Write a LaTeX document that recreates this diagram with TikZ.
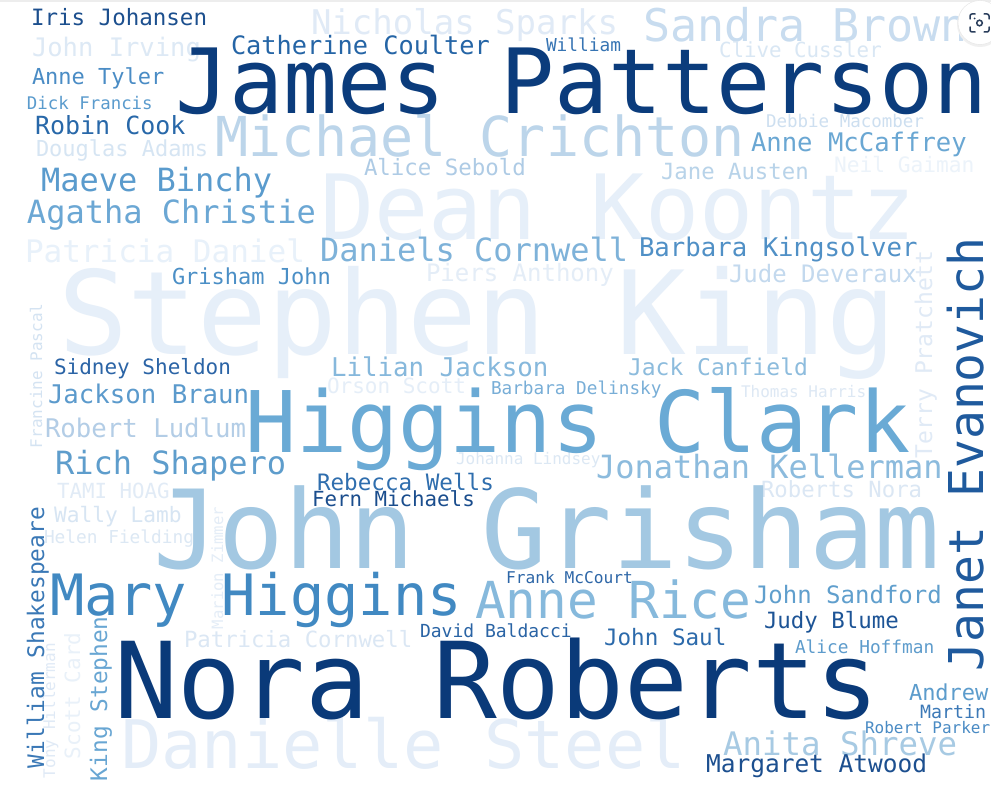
\documentclass[tikz,border=0pt]{standalone}
\usepackage{fontspec}
\newfontfamily\wcfont{DejaVu Sans Mono}
\tikzset{
  wc/.style={anchor=base west,inner sep=0pt,outer sep=0pt},
  wcv/.style={anchor=base west,inner sep=0pt,outer sep=0pt,rotate=90}
}
% name, x, y, size, colour, text
\newcommand{\cw}[6]{\node[wc,font=\wcfont\fontsize{#4pt}{#4pt}\selectfont] (#1) at (#2,#3) {\color[HTML]{#5}#6};}
\newcommand{\cwv}[6]{\node[wcv,font=\wcfont\fontsize{#4pt}{#4pt}\selectfont] (#1) at (#2,#3) {\color[HTML]{#5}#6};}
\definecolor{iconc}{HTML}{2A3E5C}
\begin{document}
\begin{tikzpicture}[x=1pt,y=-1pt]
\fill[white] (0,0) rectangle (991,802);
\useasboundingbox (0,0) rectangle (991,802);
\fill[black!7] (0,0) rectangle (991,2);
% very light, large words first
\cw{sk}{58}{355}{116}{E6EFF9}{Stephen King}
\cw{dk}{320}{240}{90}{E6EFF9}{Dean Koontz}
\cw{ds}{121}{768}{67}{E4EDF8}{Danielle Steel}
\cw{ns}{311}{35}{34}{E0EAF6}{Nicholas Sparks}
\cw{sb}{643}{42}{45}{C8DCEF}{Sandra Brown}
\cw{mc}{215}{157}{55}{BCD5EA}{Michael Crichton}
\cw{pd}{25}{263}{31}{E8F1FA}{Patricia Daniel}
\cw{ji}{32}{57}{25.5}{DDE9F5}{John Irving}
\cw{da}{36}{157}{22}{D6E5F3}{Douglas Adams}
\cw{as}{364}{176}{22.4}{AECBE5}{Alice Sebold}
\cw{cc}{719}{58}{20.8}{D9E7F4}{Clive Cussler}
\cw{dm}{766}{128}{17.5}{CDDFF0}{Debbie Macomber}
\cw{ng}{834}{173}{21.2}{ECF3FA}{Neil Gaiman}
\cw{ja}{661}{180}{22.3}{B8D3E9}{Jane Austen}
\cw{pa}{426}{282}{24}{E4EDF7}{Piers Anthony}
\cw{jd}{729}{283}{24}{C3D9EE}{Jude Deveraux}
\cw{rl}{45}{437}{25.7}{B3CDE6}{Robert Ludlum}
\cw{th}{57}{498}{20.8}{E1EBF6}{TAMI HOAG}
\cw{wl}{54}{522}{21.2}{D7E5F3}{Wally Lamb}
\cw{hf}{44}{543}{17.8}{DCE8F4}{Helen Fielding}
\cw{pc}{184}{647}{22.3}{DBE7F4}{Patricia Cornwell}
\cw{os}{327}{393}{21}{E5EEF8}{Orson Scott}
\cw{tha}{741}{397}{16}{DDE8F4}{Thomas Harris}
\cw{jl}{456}{464}{16}{DCE8F4}{Johanna Lindsey}
\cw{rn}{761}{497}{22.3}{DBE7F4}{Roberts Nora}
\cwv{tp}{932}{458}{23}{E0EAF6}{Terry Pratchett}
\cwv{fp}{42}{448}{16}{D4E3F2}{Francine Pascal}
\cwv{mz}{223}{629}{15.6}{E4EDF7}{Marion Zimmer}
\cwv{tyh}{55}{778}{16}{E0EAF6}{Tony Hillerman}
\cwv{sc}{80}{759}{21}{E9F1F9}{Scott Card}
% medium words
\cw{jg}{153}{568}{109}{A3C8E2}{John Grisham}
\cw{hc}{245}{452}{85}{6AAAD5}{Higgins Clark}
\cw{mh}{50}{615}{57}{4189C2}{Mary Higgins}
\cw{ar}{475}{618}{51}{86B9DC}{Anne Rice}
\cw{ash}{723}{755}{32.4}{A7CAE3}{Anita Shreve}
\cw{jk}{596}{478}{32}{8CBBDD}{Jonathan Kellerman}
\cw{lj}{331}{377}{25.8}{86B8DC}{Lilian Jackson}
\cw{jc}{628}{376}{23}{8DBCDD}{Jack Canfield}
\cw{bd}{491}{394}{17.7}{78AED7}{Barbara Delinsky}
\cw{dc}{320}{262}{32}{7EB2D9}{Daniels Cornwell}
\cw{bk}{639}{257}{25.7}{5090C6}{Barbara Kingsolver}
\cw{amc}{751}{152}{25.6}{6AA7D3}{Anne McCaffrey}
\cw{mb}{41}{192}{32}{5A9BCD}{Maeve Binchy}
\cw{ac}{27}{224}{32}{6BA7D4}{Agatha Christie}
\cw{gj}{172}{285}{22}{4B8FC6}{Grisham John}
\cw{at}{32}{85}{22}{4A8CC5}{Anne Tyler}
\cw{df}{27}{110}{17.4}{5A9BCD}{Dick Francis}
\cw{jb}{48}{403}{25.7}{5B9ACC}{Jackson Braun}
\cw{rs}{55}{474}{32}{5E9DCC}{Rich Shapero}
\cwv{kst}{107}{781}{22.8}{68A6D3}{King Stephen}
\cwv{ws}{44}{768}{22.8}{3A78B6}{William Shakespeare}
\cw{jsa}{754}{603}{24}{609FCD}{John Sandford}
\cw{ah}{795}{653}{17.8}{5E9CCC}{Alice Hoffman}
\cw{an}{909}{700}{22}{5C9CCC}{Andrew}
\cw{mt}{920}{718}{18.3}{3C79B7}{Martin}
\cw{rp}{865}{733}{16}{4A8BC4}{Robert Parker}
% dark words
\cw{wi}{546}{52}{17.8}{3674B3}{William}
\cw{ij}{31}{26}{22.5}{1C4F8E}{Iris Johansen}
\cw{cco}{231}{55}{25.3}{2565A6}{Catherine Coulter}
\cw{rc}{35}{135}{25}{2868A9}{Robin Cook}
\cw{ssh}{54}{374}{21}{2B64A6}{Sidney Sheldon}
\cw{rw}{317}{490}{22.6}{2F6EAE}{Rebecca Wells}
\cw{fm}{312}{506}{20.8}{1A4D8D}{Fern Michaels}
\cw{fmc}{506}{583}{16.2}{2D66A7}{Frank McCourt}
\cw{jbl}{764}{628}{22.4}{1D5496}{Judy Blume}
\cw{dba}{420}{637}{18}{2A64A5}{David Baldacci}
\cw{jsl}{604}{645}{22.6}{2C6AAB}{John Saul}
\cw{maw}{706}{772}{24.5}{1C4F8F}{Margaret Atwood}
\cwv{je}{983}{671}{48}{1F5A9D}{Janet Evanovich}
\cw{jp}{175}{114}{90}{0B3C7C}{James Patterson}
\cw{nr}{114}{718}{106}{0A3A79}{Nora Roberts}
% lens icon
\fill[black!6] (980,24) circle (23);
\filldraw[fill=white,draw=black!10] (980,22.5) circle (22);
\begin{scope}[draw=iconc,line width=1.5pt,line cap=round,rounded corners=2pt]
\draw (970,19) -- (970,14) -- (975,14);
\draw (984,14) -- (989,14) -- (989,19);
\draw (989,27) -- (989,32) -- (984,32);
\draw (975,32) -- (970,32) -- (970,27);
\end{scope}
\draw[iconc,line width=1.5pt] (979.5,23) circle (2.8);
\fill[iconc] (974.5,18.5) circle (1);
\end{tikzpicture}
\end{document}
